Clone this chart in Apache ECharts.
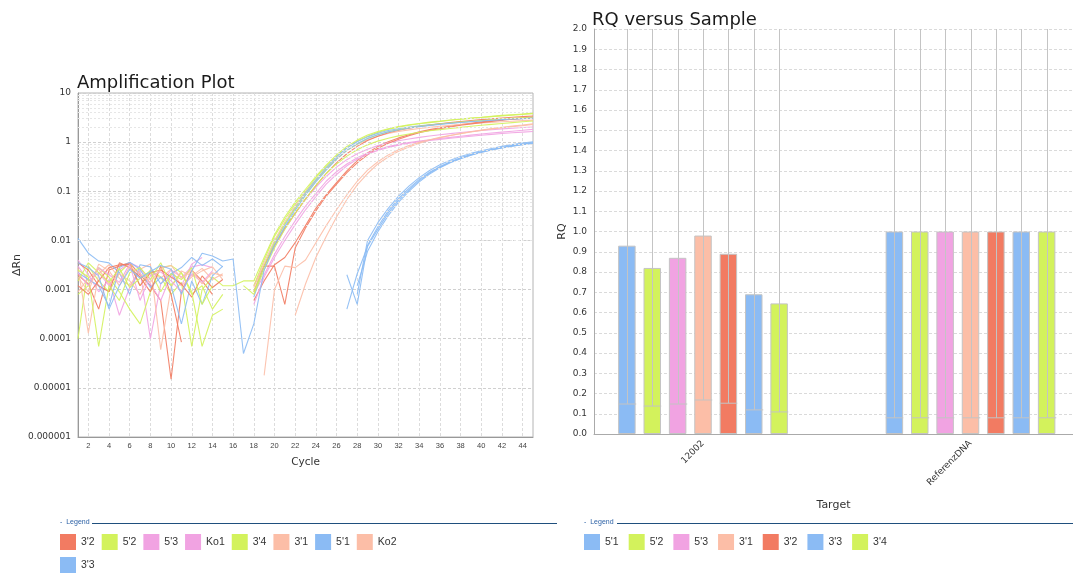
<!DOCTYPE html>
<html><head><meta charset="utf-8">
<script src="https://cdn.jsdelivr.net/npm/echarts@6/dist/echarts.min.js"></script>
<style>html,body{margin:0;padding:0;background:#fff}#c{width:1073px;height:576px}</style>
</head><body><div id="c"></div>
<script>
// ---------- Amplification plot data (ΔRn per cycle, null = not plotted) ----------
const cycles = ['1','2','3','4','5','6','7','8','9','10','11','12','13','14','15','16','17','18','19','20','21','22','23','24','25','26','27','28','29','30','31','32','33','34','35','36','37','38','39','40','41','42','43','44','45'];
const yTickLabels = ['0.000001','0.00001','0.0001','0.001','0.01','0.1','1','10'];
const ampLegend = ["3'2","5'2","5'3","Ko1","3'4","3'1","5'1","Ko2","3'3"];

const amp_3_2_a = [0.002,0.0013,0.0004,0.0025,0.003, 0.0035,0.002,0.0012,0.0006,0.000015, 0.0009,0.0025,0.0015,0.0008,null, null,null,0.0006,0.0015,0.0032, 0.0045,0.009,0.02,0.045,0.085, 0.15,0.26,0.42,0.6,0.82, 1.02,1.22,1.42,1.62,1.8, 1.96,2.12,2.28,2.43,2.58, 2.72,2.86,3.0,3.12,3.25];
const amp_3_2_b = [0.0035,0.0025,0.0012,0.0009,0.0035, 0.0028,0.0018,0.0009,0.003,0.0008, 0.000085,null,null,null,null, null,null,null,0.003,0.003, 0.0005,0.007,0.018,0.04,0.08, 0.14,0.24,0.38,0.55,0.75, 0.95,1.15,1.35,1.55,1.72, 1.88,2.04,2.2,2.35,2.5, 2.65,2.78,2.92,3.05,3.15];
const amp_3_2_c = [0.0012,0.0008,0.0015,0.0028,0.0032, 0.0033,0.0012,0.0022,0.0025,0.0018, 0.0013,0.0007,0.0019,0.0011,0.0016, null,null,0.0009,0.003,0.008, 0.018,0.036,0.07,0.13,0.23, 0.38,0.58,0.82,1.08,1.32, 1.55,1.75,1.92,2.08,2.22, 2.36,2.5,2.62,2.75,2.87, 2.98,3.1,3.2,3.3,3.4];
const amp_5_2_a = [0.0001,0.003,0.0015,0.0009,0.0022, 0.0035,0.0012,0.0025,0.0018,0.0008, 0.0014,0.00007,0.001,0.0018,0.0012, 0.0012,0.0015,0.0015,0.0045,0.013, 0.03,0.06,0.11,0.2,0.34, 0.55,0.82,1.1,1.4,1.65, 1.88,2.08,2.25,2.4,2.55, 2.68,2.82,2.95,3.08,3.2, 3.35,3.5,3.62,3.75,3.9];
const amp_5_2_b = [0.0025,0.0018,0.00007,0.0012,0.0006, 0.0022,0.0028,0.0016,0.0035,0.0012, 0.0022,0.0009,0.00007,0.0003,0.0004, null,null,0.0009,0.003,0.009, 0.022,0.045,0.085,0.16,0.28, 0.45,0.68,0.92,1.18,1.42, 1.62,1.8,1.96,2.1,2.22, 2.34,2.45,2.56,2.66,2.76, 2.86,2.95,3.04,3.12,3.2];
const amp_5_3_a = [0.004,0.002,0.0009,0.0016,0.0003, 0.0011,0.0024,0.0001,0.0013,0.0025, 0.0018,0.0029,0.0032,0.0028,null, null,null,0.0008,0.002,0.0052, 0.012,0.025,0.05,0.09,0.16, 0.25,0.36,0.48,0.6,0.71, 0.81,0.9,0.98,1.05,1.12, 1.19,1.25,1.32,1.39,1.46, 1.53,1.6,1.67,1.74,1.82];
const amp_5_3_b = [0.0022,0.0012,0.0028,0.002,0.0014, 0.0033,0.0006,0.0019,0.0023,0.0015, 0.0009,0.0021,0.0014,0.0024,null, null,null,0.0005,0.0018,0.0045, 0.01,0.021,0.042,0.078,0.14, 0.22,0.33,0.45,0.57,0.68, 0.78,0.87,0.95,1.02,1.08, 1.14,1.2,1.26,1.32,1.38, 1.44,1.5,1.55,1.6,1.65];
const amp_Ko1 = [0.003,0.0015,0.0022,0.0012,0.0025, 0.0035,0.0028,0.0013,0.0006,0.002, 0.0012,0.0033,0.0045,null,null, null,null,0.0012,0.003,0.0075, 0.017,0.035,0.068,0.12,0.2, 0.31,0.44,0.58,0.72,0.85, 0.97,1.07,1.16,1.25,1.33, 1.41,1.49,1.57,1.65,1.72, 1.79,1.86,1.92,1.98,2.04];
const amp_3_4_a = [0.0008,0.0012,0.0028,0.0018,0.0009, 0.0004,0.0002,0.0009,0.0028,0.0031, 0.0022,0.0008,0.0012,0.0004,0.0008, null,null,0.0012,0.004,0.012, 0.027,0.055,0.1,0.19,0.32, 0.52,0.78,1.05,1.32,1.58, 1.82,2.02,2.2,2.36,2.5, 2.64,2.78,2.92,3.05,3.18, 3.3,3.42,3.55,3.68,3.8];
const amp_3_4_b = [0.0015,0.0035,0.0022,0.0014,0.0027, 0.0011,0.0017,0.0024,0.0009,0.0021, 0.0016,0.0028,0.0005,0.0012,null, null,0.0012,0.0008,0.0025,0.007, 0.017,0.036,0.07,0.13,0.23, 0.36,0.52,0.7,0.88,1.05, 1.2,1.34,1.47,1.59,1.7, 1.8,1.9,2.0,2.1,2.2, 2.3,2.4,2.5,2.6,2.7];
const amp_3_1_a = [0.0028,0.00013,0.0021,0.0032,0.0017, 0.0012,0.0026,0.0033,0.00006,0.0011, 0.0024,0.0019,0.0027,0.0016,0.0021, null,null,0.0011,0.0035,0.01, 0.024,0.05,0.095,0.17,0.29, 0.46,0.68,0.9,1.12,1.32, 1.5,1.65,1.78,1.9,2.0, 2.1,2.19,2.28,2.37,2.45, 2.53,2.6,2.67,2.74,2.8];
const amp_3_1_b = [0.0018,0.0009,0.0033,0.0024,0.0012, 0.0029,0.0021,0.0014,0.0027,0.0031, 0.0017,0.0025,0.0013,0.0022,0.0019, null,null,null,0.000018,0.001, 0.003,0.0028,0.004,0.009,0.02, 0.042,0.085,0.16,0.27,0.4, 0.55,0.7,0.85,0.99,1.12, 1.25,1.37,1.49,1.61,1.73, 1.85,1.96,2.07,2.17,2.28];
const amp_5_1_a = [0.011,0.0055,0.0038,0.0035,0.0022, 0.0008,0.0032,0.0029,0.0013,0.0021, 0.0028,0.0045,0.0031,0.0042,0.0029, null,null,0.0007,0.003,0.009, 0.021,0.046,0.092,0.17,0.3, 0.5,0.76,1.02,1.28,1.52, 1.72,1.88,2.02,2.14,2.25, 2.35,2.45,2.55,2.64,2.72, 2.8,2.87,2.94,3.0,3.06];
const amp_5_1_b = [0.0035,0.0028,0.0019,0.0004,0.0012, 0.0026,0.0017,0.0023,0.0031,0.0026, 0.0008,0.0024,0.0055,0.0048,0.0038, 0.0042,0.00005,0.0002,0.0025,0.008, 0.019,0.041,0.083,0.155,0.27, 0.45,0.68,0.93,1.18,1.42, 1.62,1.79,1.94,2.07,2.19, 2.3,2.41,2.51,2.61,2.7, 2.79,2.87,2.95,3.02,3.1];
const amp_Ko2 = [0.0009,0.0017,0.0026,0.0013,0.0021, 0.0015,0.0008,0.0023,0.0017,0.0026, 0.0012,0.0018,0.0024,0.0029,0.0016, null,null,null,null,null, null,0.0003,0.0013,0.0045,0.012, 0.03,0.068,0.135,0.23,0.36, 0.5,0.65,0.8,0.95,1.09, 1.23,1.37,1.5,1.63,1.76, 1.88,2.0,2.12,2.23,2.35];
const amp_3_3_a = [0.0022,0.0016,0.0012,0.00045,0.0028, 0.0036,0.0026,0.0011,0.0018,0.0012, 0.0002,0.0015,0.0005,0.0019,0.003, null,null,null,null,null, null,null,null,null,null, null,0.002,0.0005,0.008,0.019, 0.04,0.072,0.115,0.175,0.245, 0.32,0.4,0.48,0.56,0.64, 0.71,0.78,0.85,0.92,0.98];
const amp_3_3_b = [null,null,null,null,null, null,null,null,null,null, null,null,null,null,null, null,null,null,null,null, null,null,null,null,null, null,0.0004,0.0021,0.0075,0.017, 0.036,0.066,0.107,0.165,0.235, 0.31,0.39,0.47,0.55,0.63, 0.7,0.77,0.84,0.9,0.96];
const amp_3_3_c = [null,null,null,null,null, null,null,null,null,null, null,null,null,null,null, null,null,null,null,null, null,null,null,null,null, null,null,0.0008,0.01,0.023, 0.045,0.08,0.127,0.19,0.265, 0.345,0.43,0.51,0.59,0.67, 0.745,0.82,0.89,0.96,1.02];
const amp_3_3_d = [null,null,null,null,null, null,null,null,null,null, null,null,null,null,null, null,null,null,null,null, null,null,null,null,null, null,null,0.0012,0.006,0.015, 0.032,0.06,0.1,0.155,0.225, 0.3,0.38,0.46,0.54,0.615, 0.69,0.76,0.83,0.89,0.94];

// ---------- RQ versus Sample data ----------
const rqTargets = ['12002','ReferenzDNA'];
const rqNames = ["5'1","5'2","5'3","3'1","3'2","3'3","3'4"];
const rq_5_1 = [0.93, 1.0];
const rq_5_2 = [0.82, 1.0];
const rq_5_3 = [0.87, 1.0];
const rq_3_1 = [0.98, 1.0];
const rq_3_2 = [0.89, 1.0];
const rq_3_3 = [0.69, 1.0];
const rq_3_4 = [0.645, 1.0];
const rqMin_5_1 = [0.148, 0.08];
const rqMin_5_2 = [0.138, 0.08];
const rqMin_5_3 = [0.148, 0.08];
const rqMin_3_1 = [0.168, 0.08];
const rqMin_3_2 = [0.152, 0.08];
const rqMin_3_3 = [0.119, 0.08];
const rqMin_3_4 = [0.109, 0.08];
const rqMax = [2.0, 2.0]; // upper limits run past the top of the axis
const rqTicks = ['0.0','0.1','0.2','0.3','0.4','0.5','0.6','0.7','0.8','0.9','1.0','1.1','1.2','1.3','1.4','1.5','1.6','1.7','1.8','1.9','2.0'];

// ---------- styling ----------
const C = {red:'#f27b62', green:'#d3f25c', pink:'#f1a3e2', peach:'#fcbea7', blue:'#8bbbf4'};
const ampSeries = [
  ["3'2", C.red, amp_3_2_a], ["5'2", C.green, amp_5_2_a], ["5'3", C.pink, amp_5_3_a], ["Ko1", C.pink, amp_Ko1],
  ["3'4", C.green, amp_3_4_a], ["3'1", C.peach, amp_3_1_a], ["5'1", C.blue, amp_5_1_a], ["Ko2", C.peach, amp_Ko2],
  ["3'3", C.blue, amp_3_3_a], ["3'2", C.red, amp_3_2_b], ["3'2", C.red, amp_3_2_c], ["5'2", C.green, amp_5_2_b],
  ["5'3", C.pink, amp_5_3_b], ["3'4", C.green, amp_3_4_b], ["3'1", C.peach, amp_3_1_b], ["5'1", C.blue, amp_5_1_b],
  ["3'3", C.blue, amp_3_3_b], ["3'3", C.blue, amp_3_3_c], ["3'3", C.blue, amp_3_3_d]
];
const rqSets = [
  [rq_5_1, rqMin_5_1, C.blue], [rq_5_2, rqMin_5_2, C.green], [rq_5_3, rqMin_5_3, C.pink], [rq_3_1, rqMin_3_1, C.peach],
  [rq_3_2, rqMin_3_2, C.red], [rq_3_3, rqMin_3_3, C.blue], [rq_3_4, rqMin_3_4, C.green]
];
const BW = 17.5, PITCH = 25.4;

const minorVals = [];
for (let e = -6; e < 1; e++) for (let k = 2; k <= 9; k++) minorVals.push(k * Math.pow(10, e));

const numFont = 'DejaVu Sans';
const series = [];
series.push({
  type:'line', xAxisIndex:0, yAxisIndex:0, data: cycles.map(() => null), silent:true, z:0, showSymbol:false,
  markLine:{silent:true, symbol:'none', label:{show:false}, animation:false,
    lineStyle:{color:'#e6e6e6', type:[2,2], width:1}, data: minorVals.map(v => ({yAxis:v}))}
});
ampSeries.forEach(([name, color, data]) => {
  series.push({type:'line', name, color, xAxisIndex:0, yAxisIndex:0, data, showSymbol:false, connectNulls:false,
    lineStyle:{width:1.1, color, opacity:0.9}, itemStyle:{color}, emphasis:{disabled:true}});
});
rqSets.forEach(([vals, mins, color], i) => {
  series.push({type:'bar', name: rqNames[i], xAxisIndex:2, yAxisIndex:2, data: vals, barWidth: BW, barGap:'45%',
    itemStyle:{color, borderColor:'#c4c4c4', borderWidth:1}, emphasis:{disabled:true}});
});
rqSets.forEach(([vals, mins, color], i) => {
  const off = (i - 3) * PITCH;
  series.push({type:'custom', name:'err' + i, xAxisIndex:2, yAxisIndex:2, z:5, silent:true,
    data: rqTargets.map((t, j) => [j, mins[j], rqMax[j]]),
    encode:{x:0, y:[1,2]},
    renderItem: function(params, api){
      const lo = api.coord([api.value(0), api.value(1)]);
      const hi = api.coord([api.value(0), api.value(2)]);
      const x = Math.round(lo[0] + off) + 0.5;
      const st = {stroke:'#c4c4c4', lineWidth:1};
      return {type:'group', children:[
        {type:'line', shape:{x1:x, y1:lo[1], x2:x, y2:hi[1]}, style:st},
        {type:'line', shape:{x1:x - BW/2, y1:lo[1], x2:x + BW/2, y2:lo[1]}, style:st}
      ]};
    }});
});

const chart = echarts.init(document.getElementById('c'), null, {renderer:'canvas'});
chart.setOption({
  animation:false,
  backgroundColor:'#fff',
  title:[
    {text:'Amplification Plot', left:77, top:74, padding:0, textStyle:{fontFamily:'DejaVu Sans', fontSize:18, fontWeight:'normal', color:'#1a1a1a'}},
    {text:'RQ versus Sample', left:592, top:11, padding:0, textStyle:{fontFamily:'DejaVu Sans', fontSize:18, fontWeight:'normal', color:'#1a1a1a'}}
  ],
  legend:[
    {data: ampLegend, left:60, top:534, width:360, padding:0, icon:'rect', itemWidth:16, itemHeight:16, itemGap:7,
      textStyle:{fontFamily:'Liberation Sans', fontSize:10.5, color:'#333'}, itemStyle:{borderWidth:0}, selectedMode:false},
    {data: rqNames, left:584, top:534, padding:0, icon:'rect', itemWidth:16, itemHeight:16, itemGap:10,
      textStyle:{fontFamily:'Liberation Sans', fontSize:10.5, color:'#333'}, itemStyle:{borderWidth:0}, selectedMode:false}
  ],
  graphic:[
    {type:'text', x:60, y:519, style:{text:'-  Legend', fontSize:7, fontFamily:'Liberation Sans', fill:'#2d62a6'}},
    {type:'line', shape:{x1:92, y1:523.5, x2:557, y2:523.5}, style:{stroke:'#1f4f7d', lineWidth:1}},
    {type:'text', x:584, y:519, style:{text:'-  Legend', fontSize:7, fontFamily:'Liberation Sans', fill:'#2d62a6'}},
    {type:'line', shape:{x1:617, y1:523.5, x2:1073, y2:523.5}, style:{stroke:'#1f4f7d', lineWidth:1}}
  ],
  grid:[
    {left:78, top:93, width:455, height:344, show:true, borderColor:'#b4b4b4', borderWidth:1, backgroundColor:'#fff', outerBoundsMode:'none', containLabel:false},
    {left:594, top:29, right:0, height:405, outerBoundsMode:'none', containLabel:false},
    {left:569.25, top:29, width:535, height:405, outerBoundsMode:'none', containLabel:false}
  ],
  xAxis:[
    {type:'category', gridIndex:0, data:cycles, boundaryGap:false,
      name:'Cycle', nameLocation:'middle', nameGap:20, nameTextStyle:{fontFamily:numFont, fontSize:10.5, color:'#333'},
      axisLine:{lineStyle:{color:'#999'}}, axisTick:{show:false},
      axisLabel:{interval:(i, v) => (+v) % 2 === 0, fontFamily:'Liberation Sans', fontSize:7.5, color:'#444', margin:5},
      splitLine:{show:true, interval:(i, v) => (+v) % 2 === 0, lineStyle:{color:'#dcdcdc', type:[3,2]}}},
    {type:'value', gridIndex:1, min:0, max:1, name:'Target', nameLocation:'middle', nameGap:66,
      nameTextStyle:{fontFamily:numFont, fontSize:11, color:'#333'},
      axisLine:{show:true, lineStyle:{color:'#aaa'}}, axisTick:{show:false}, axisLabel:{show:false}, splitLine:{show:false}},
    {type:'category', gridIndex:2, data:rqTargets, axisLine:{show:false}, axisTick:{show:false},
      axisLabel:{rotate:45, margin:8, fontFamily:numFont, fontSize:9, color:'#333'}, splitLine:{show:false}}
  ],
  yAxis:[
    {type:'log', logBase:10, gridIndex:0, min:0.000001, max:10, splitNumber:7,
      name:'ΔRn', nameLocation:'middle', nameGap:55, nameRotate:90, nameTextStyle:{fontFamily:numFont, fontSize:11, color:'#333'},
      axisLine:{show:true, lineStyle:{color:'#999'}}, axisTick:{show:false},
      axisLabel:{fontFamily:numFont, fontSize:9, color:'#333', margin:7,
        formatter:(v) => yTickLabels.find(s => Math.abs(Math.log10(+s) - Math.log10(v)) < 0.01) || ''},
      splitLine:{show:true, lineStyle:{color:'#d0d0d0', type:[3,2]}}},
    {type:'value', gridIndex:1, min:0, max:2, interval:0.1,
      name:'RQ', nameLocation:'middle', nameGap:26, nameRotate:90, nameTextStyle:{fontFamily:numFont, fontSize:11, color:'#333'},
      axisLine:{show:true, lineStyle:{color:'#aaa'}}, axisTick:{show:false},
      axisLabel:{fontFamily:numFont, fontSize:9, color:'#333', margin:7, formatter:(v) => rqTicks[Math.round(v * 10)]},
      splitLine:{show:true, lineStyle:{color:'#dadada', type:[3,2]}}},
    {type:'value', gridIndex:2, min:0, max:2, show:false, splitLine:{show:false}}
  ],
  series
});
</script></body></html>
